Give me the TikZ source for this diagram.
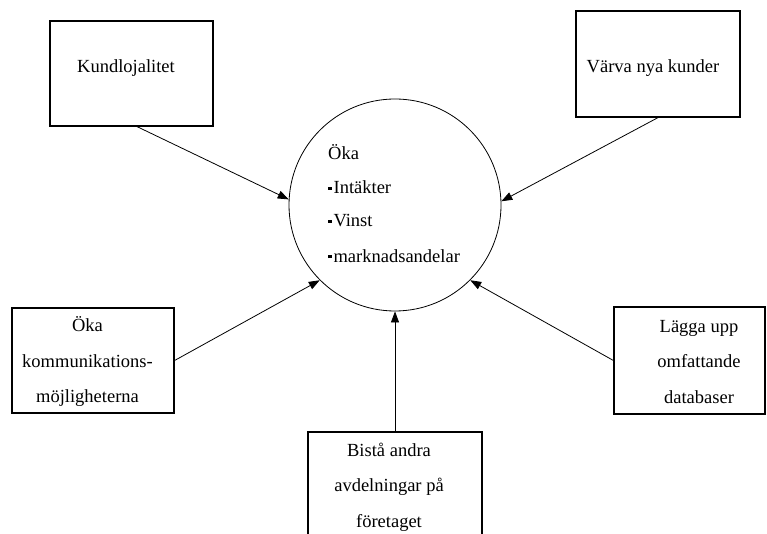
\documentclass[tikz,border=0pt]{standalone}
\usepackage{fontspec}
\setmainfont{Liberation Serif}
\usetikzlibrary{arrows.meta,calc}

\tikzset{
  goalbox/.style={draw, line width=1.2pt, rectangle, inner sep=0pt},
  boxtext/.style={align=center, inner sep=0pt, font=\fontsize{18.5}{35.5}\selectfont},
  circtext/.style={anchor=base west, inner sep=0pt, font=\fontsize{18.5}{21}\selectfont},
  goal/.style={draw, circle, line width=0.8pt, minimum size=212pt, inner sep=0pt},
  link/.style={line width=0.8pt, -{Triangle[length=11pt,width=8pt]}},
}
\newcommand{\sqbullet}{\raisebox{4pt}{\rule{3.4pt}{3.4pt}}\hspace{2pt}}

\begin{document}
\begin{tikzpicture}[x=1pt, y=-1pt]
  \useasboundingbox (0,0) rectangle (767,534);

  % central goal
  \node[goal] (c) at (395,205) {};
  \node[circtext] (c1) at (328,160) {Öka};
  \node[circtext] (c2) at (328,194) {\sqbullet Intäkter};
  \node[circtext] (c3) at (328,227) {\sqbullet Vinst};
  \node[circtext] (c4) at (328,262) {\sqbullet marknadsandelar};

  % surrounding boxes
  \node[goalbox, minimum width=163pt, minimum height=105pt] (k) at (131.5,73.5) {};
  \node[boxtext] (kt) at (126,68) {Kundlojalitet};

  \node[goalbox, minimum width=164pt, minimum height=106pt] (v) at (658,64) {};
  \node[boxtext] (vt) at (653,68) {Värva nya kunder};

  \node[goalbox, minimum width=162pt, minimum height=105pt] (o) at (93,360.5) {};
  \node[boxtext] (ot) at (87.5,362) {Öka\\kommunikations-\\möjligheterna};

  \node[goalbox, minimum width=151pt, minimum height=107pt] (l) at (689.5,360.5) {};
  \node[boxtext] (lt) at (699,362) {Lägga upp\\omfattande\\databaser};

  \node[goalbox, minimum width=174pt, minimum height=140pt] (b) at (395,502) {};
  \node[boxtext] (bt) at (389,487) {Bistå andra\\avdelningar på\\företaget};

  % connectors
  \draw[link] ([xshift=5.5pt]k.south) -- (c.177);
  \draw[link] (v.south) -- (c.2);
  \draw[link] (o.east) -- (c.225);
  \draw[link] (l.west) -- (c.315);
  \draw[link] (b.north) -- (c.south);
\end{tikzpicture}
\end{document}
